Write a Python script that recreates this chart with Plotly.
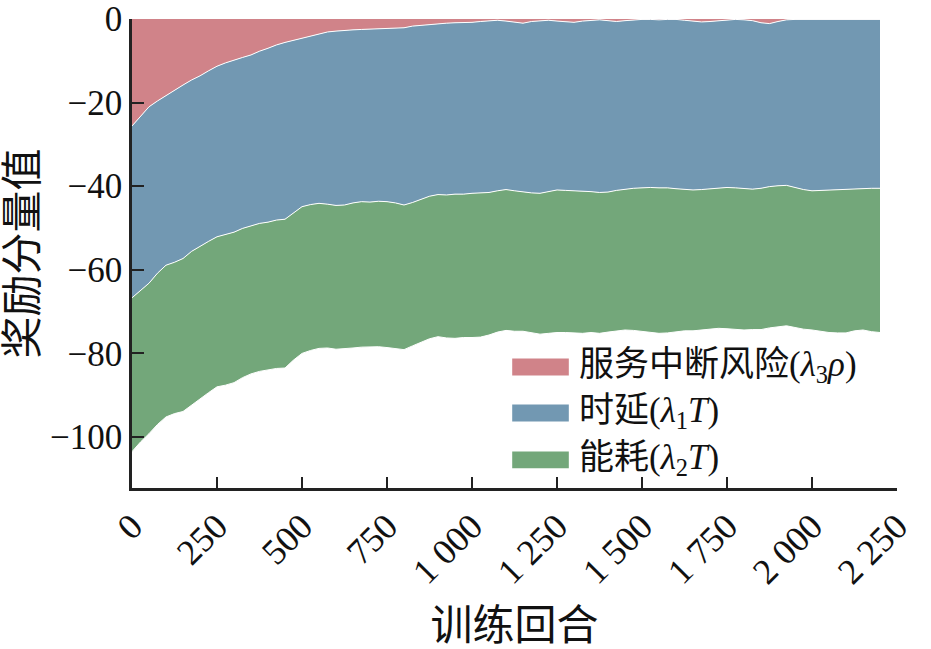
import plotly.graph_objects as go

# training episodes, sampled every 25
episodes = list(range(0, 2201, 25))

# cumulative boundaries (one row = 200 episodes)
risk_edge = [
    -25.6, -23.2, -21.0, -19.6, -18.3, -16.9, -15.8, -14.6,
    -13.6, -12.4, -11.3, -10.5, -9.8, -9.2, -8.6, -7.7,
    -7.0, -6.2, -5.6, -5.1, -4.7, -4.1, -3.6, -3.1,
    -2.9, -2.7, -2.6, -2.5, -2.4, -2.4, -2.3, -2.2,
    -2.1, -1.7, -1.5, -1.4, -1.2, -1.0, -0.9, -0.9,
    -0.8, -0.6, -0.4, -0.3, -0.5, -0.8, -1.0, -0.6,
    -0.4, -0.3, -0.5, -0.7, -0.8, -0.5, -0.3, -0.2,
    -0.4, -0.6, -0.4, -0.2, -0.1, -0.1, -0.2, -0.1,
    -0.1, -0.3, -0.5, -0.7, -0.6, -0.4, -0.2, -0.1,
    -0.2, -0.4, -0.9, -1.1, -0.6, -0.2, -0.1, -0.1,
    -0.1, -0.2, -0.1, -0.1, -0.1, -0.1, -0.1, -0.1,
    -0.1,
]
delay_edge = [
    -66.7, -65.0, -63.2, -60.8, -58.9, -58.2, -57.3, -55.6,
    -54.3, -53.2, -52.1, -51.6, -51.0, -50.1, -49.5, -48.9,
    -48.6, -48.1, -47.9, -46.5, -44.9, -44.4, -44.1, -44.3,
    -44.6, -44.5, -44.0, -43.7, -43.8, -43.6, -43.7, -44.0,
    -44.5, -43.9, -43.1, -42.4, -42.0, -42.1, -41.9, -41.9,
    -41.7, -41.6, -41.5, -41.1, -40.8, -41.1, -41.4, -41.6,
    -41.7, -41.3, -40.9, -41.0, -41.1, -41.1, -41.3, -41.5,
    -41.4, -41.0, -40.7, -40.5, -40.4, -40.3, -40.4, -40.4,
    -40.6, -40.8, -40.9, -40.8, -40.6, -40.4, -40.3, -40.4,
    -40.6, -40.7, -40.5, -40.1, -39.9, -39.8, -40.3, -40.8,
    -41.1, -41.0, -40.9, -40.8, -40.7, -40.6, -40.5, -40.5,
    -40.5,
]
energy_edge = [
    -103.5, -101.2, -99.2, -97.0, -95.2, -94.4, -93.9, -92.3,
    -90.9, -89.4, -88.0, -87.6, -87.0, -85.8, -84.9, -84.3,
    -83.9, -83.6, -83.5, -81.6, -80.0, -79.3, -78.8, -78.7,
    -79.0, -78.9, -78.7, -78.5, -78.5, -78.4, -78.6, -78.8,
    -79.1, -78.2, -77.3, -76.5, -76.0, -76.3, -76.4, -76.2,
    -76.2, -76.1, -75.6, -74.9, -74.5, -74.7, -74.7, -75.0,
    -75.4, -75.2, -75.0, -75.0, -75.1, -75.2, -75.0, -75.2,
    -74.9, -74.6, -74.4, -74.5, -74.7, -75.0, -75.2, -75.1,
    -74.9, -74.6, -74.6, -74.4, -74.2, -74.0, -74.1, -74.2,
    -74.4, -74.3, -74.3, -73.9, -73.6, -73.4, -73.8, -74.2,
    -74.4, -74.7, -75.0, -75.1, -75.1, -74.6, -74.4, -74.8,
    -75.0,
]

series_names = ["服务中断风险(<i>λ</i><sub>3</sub><i>ρ</i>)",
                "时延(<i>λ</i><sub>1</sub><i>T</i>)",
                "能耗(<i>λ</i><sub>2</sub><i>T</i>)"]
colors = ["#D08389", "#7298B2", "#73A77A"]

x_ticks = [0, 250, 500, 750, 1000, 1250, 1500, 1750, 2000, 2250]
x_ticktext = ["0", "250", "500", "750", "1 000", "1 250", "1 500", "1 750",
              "2 000", "2 250"]
y_ticks = [0, -20, -40, -60, -80, -100]

FONT = "Liberation Serif, Times New Roman, Noto Sans CJK SC, serif"

fig = go.Figure()
edges = [risk_edge, delay_edge, energy_edge]
fills = ["tozeroy", "tonexty", "tonexty"]
for name, edge, fill, color in zip(series_names, edges, fills, colors):
    fig.add_trace(go.Scatter(
        x=episodes, y=edge, mode="lines", fill=fill, fillcolor=color,
        line=dict(color="white", width=1), name=name, showlegend=False,
    ))

# hand-drawn legend (swatches are wide flat boxes in the original)
legend_rows = [0.258, 0.160, 0.060]
for name, color, yc in zip(series_names, colors, legend_rows):
    fig.add_shape(type="rect", xref="paper", yref="paper",
                  x0=0.497, x1=0.571, y0=yc - 0.018, y1=yc + 0.018,
                  fillcolor=color, line=dict(width=0))
    fig.add_annotation(xref="paper", yref="paper", x=0.582, y=yc,
                       xanchor="left", yanchor="middle", showarrow=False,
                       text=name, font=dict(size=35))

fig.update_layout(
    width=931, height=649,
    margin=dict(l=132, r=34, t=19, b=161),
    paper_bgcolor="white", plot_bgcolor="white",
    font=dict(family=FONT, size=35, color="#111"),
    xaxis=dict(range=[0, 2250], tickvals=x_ticks, ticktext=x_ticktext,
               tickangle=-45, ticks="inside", ticklen=11, tickwidth=2,
               tickcolor="#222", showline=True, linecolor="#222", linewidth=2.5,
               showgrid=False, zeroline=False, automargin=False,
               title=dict(text="训练回合", standoff=30),
               tickfont=dict(size=36)),
    yaxis=dict(range=[-112.2, 0], tickvals=y_ticks, ticks="inside",
               ticklen=12, tickwidth=2, tickcolor="#222", showline=True,
               linecolor="#222", linewidth=2.5, showgrid=False, zeroline=False,
               automargin=False, title=dict(text="奖励分量值", standoff=12),
               tickfont=dict(size=35)),
)

fig.write_html("out.html", config={"displayModeBar": False},
               post_script="document.body.style.margin='0px';")
